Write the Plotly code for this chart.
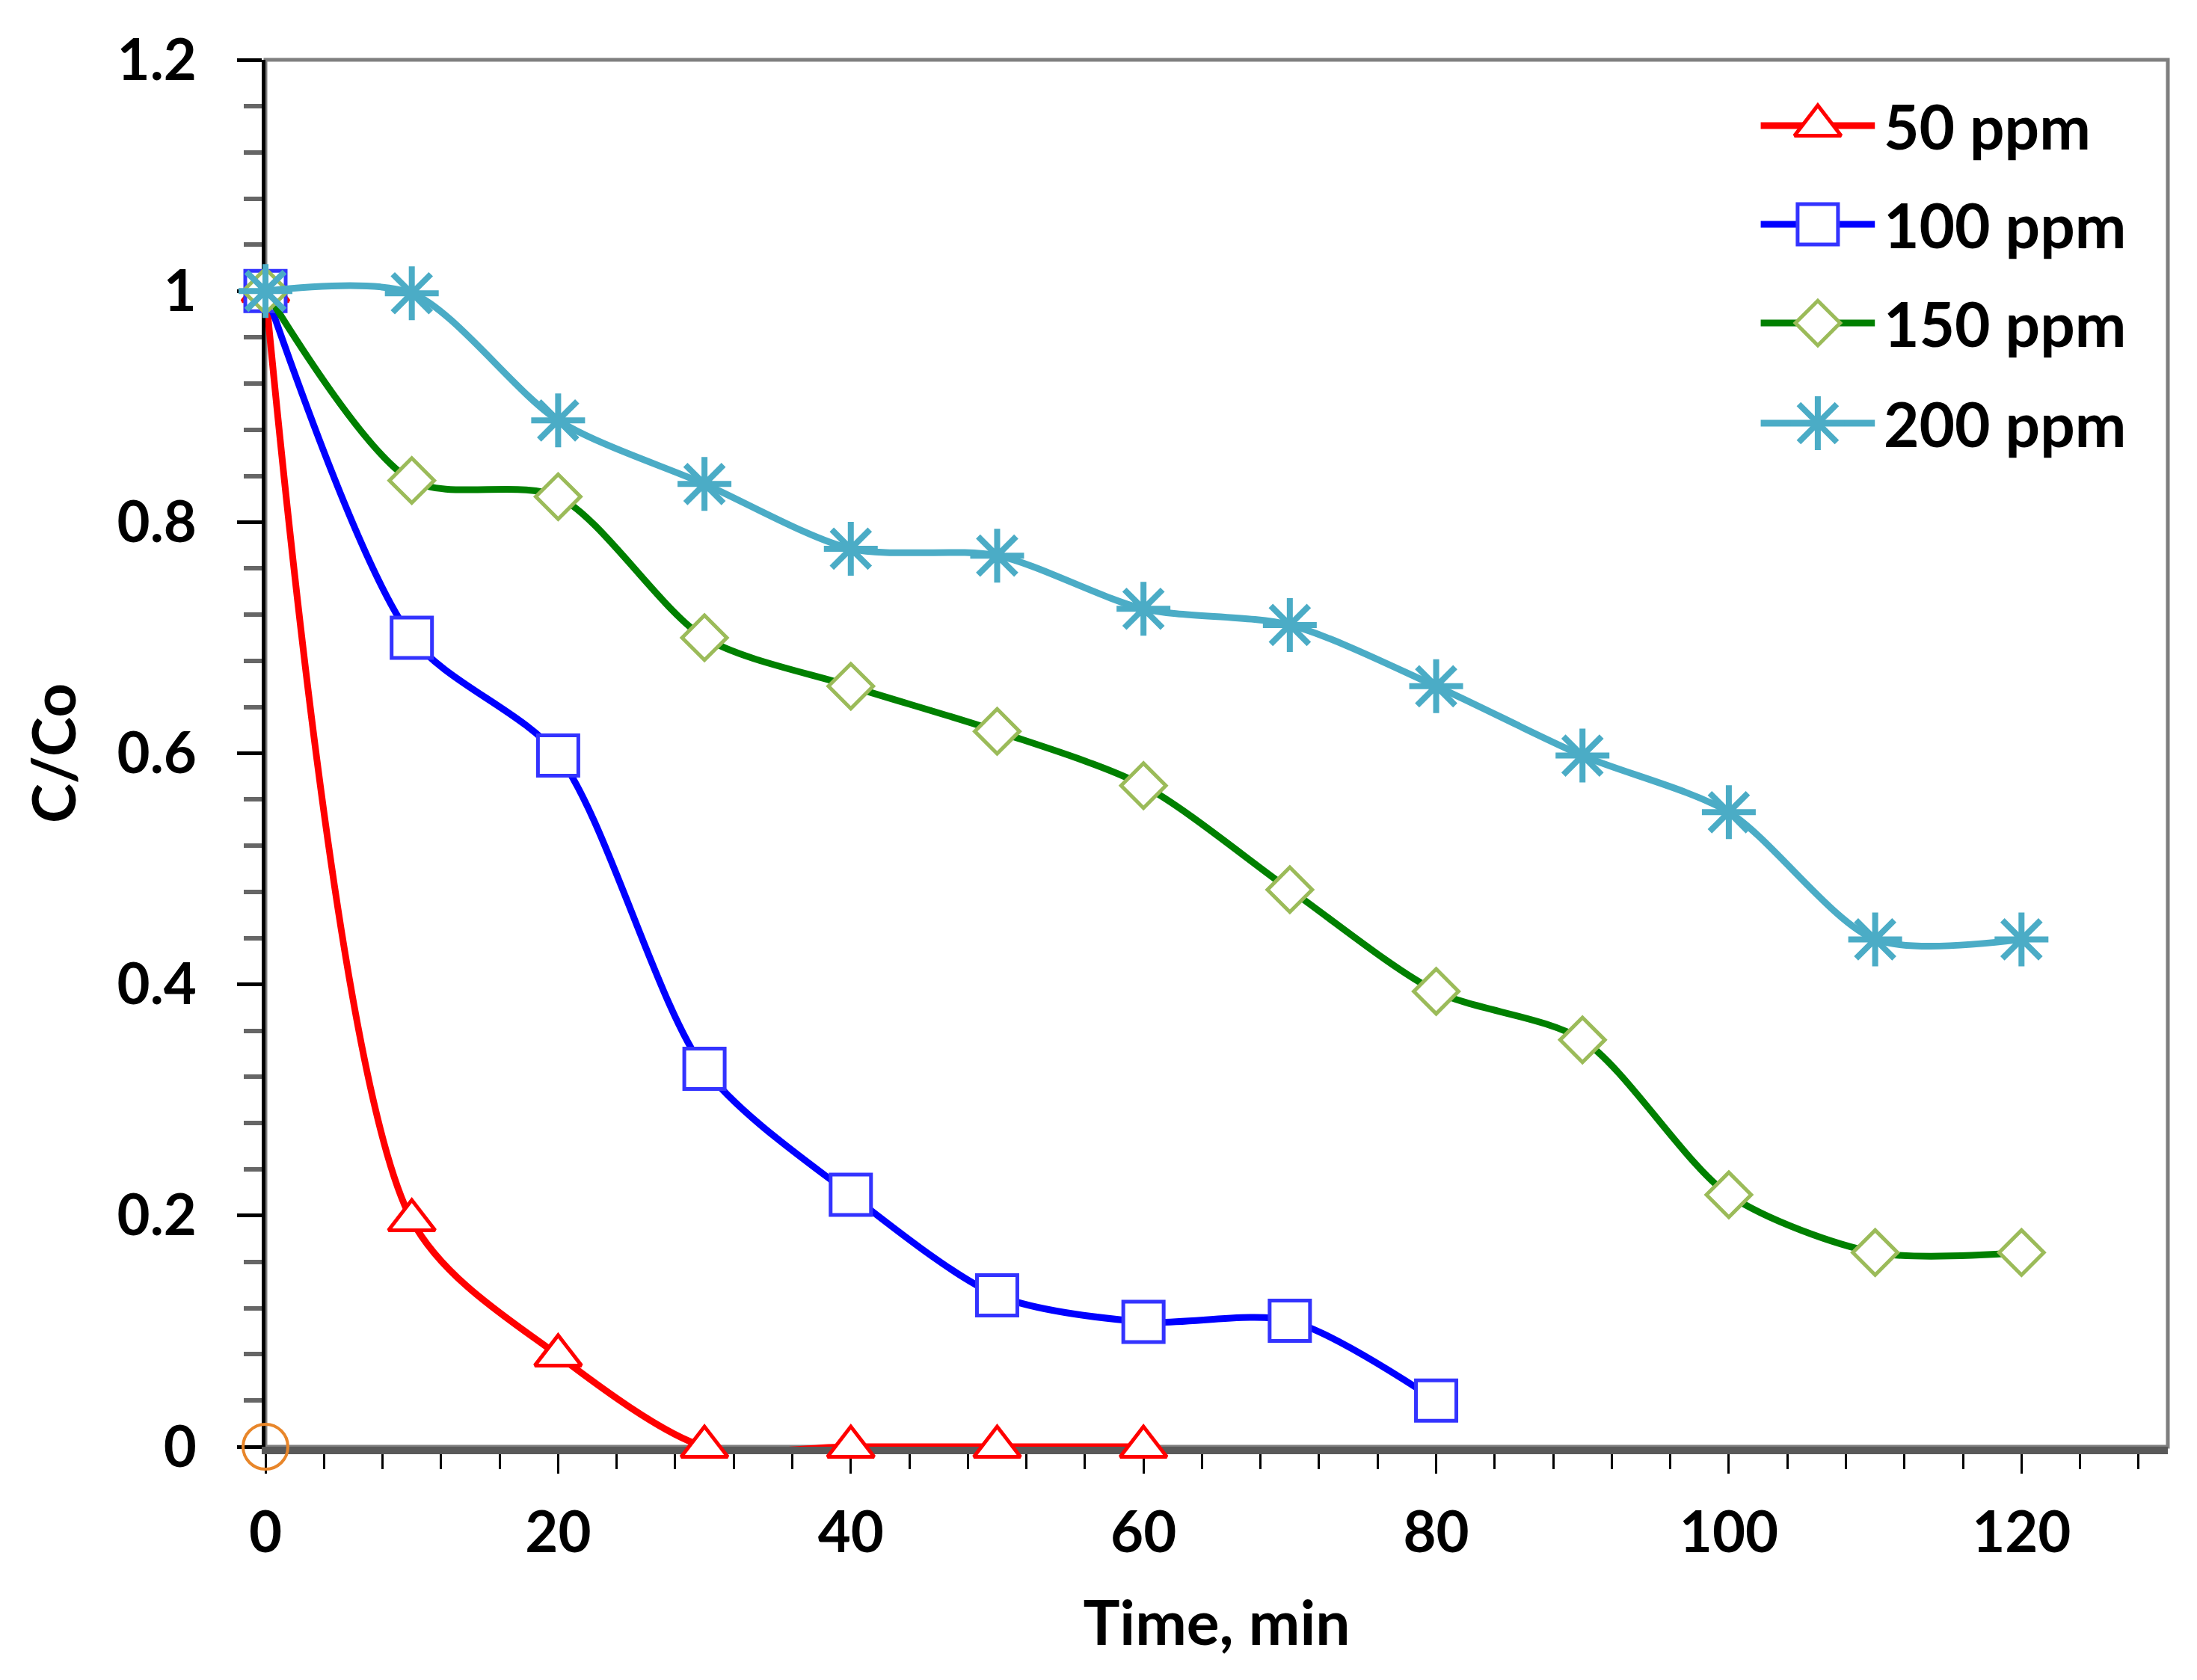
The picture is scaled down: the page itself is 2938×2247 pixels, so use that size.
import plotly.graph_objects as go

time_50 = [0, 10, 20, 30, 40, 50, 60]
c_50 = [1.0, 0.196, 0.079, 0.0, 0.0, 0.0, 0.0]

time_100 = [0, 10, 20, 30, 40, 50, 60, 70, 80]
c_100 = [1.0, 0.70, 0.598, 0.327, 0.218, 0.131, 0.108, 0.109, 0.04]

time_150 = [0, 10, 20, 30, 40, 50, 60, 70, 80, 90, 100, 110, 120]
c_150 = [1.0, 0.836, 0.822, 0.70, 0.658, 0.619, 0.572, 0.482, 0.394, 0.352, 0.218, 0.168, 0.168]

time_200 = [0, 10, 20, 30, 40, 50, 60, 70, 80, 90, 100, 110, 120]
c_200 = [1.0, 0.998, 0.888, 0.833, 0.777, 0.771, 0.725, 0.711, 0.658, 0.598, 0.549, 0.439, 0.439]

labels = ["50 ppm", "100 ppm", "150 ppm", "200 ppm"]

origin_x = [0]
origin_y = [0]

FONT = "Lato"

# look of each series: line colour, marker edge colour, symbol, size
styles = [
    dict(lc="#FF0000", mc="#FF0000", sym="triangle-up", sz=54),
    dict(lc="#0000FF", mc="#3333FF", sym="square", sz=54),
    dict(lc="#008000", mc="#9BBB59", sym="diamond", sz=46),
    dict(lc="#4BACC6", mc="#4BACC6", sym="asterisk-open", sz=60),
]

# hand-made legend (plotly caps legend marker size), in plot-area fractions
LEG_X0, LEG_XM, LEG_X1, LEG_TX = 0.786, 0.816, 0.846, 0.850
LEG_ROWS = [0.9526, 0.8814, 0.8102, 0.738]


def marker_of(st):
    star = st["sym"] == "asterisk-open"
    return dict(symbol=st["sym"], size=st["sz"],
                color=st["mc"] if star else "white",
                line=dict(color=st["mc"], width=8 if star else 5))


fig = go.Figure()

# stray origin marker from the original sheet
fig.add_trace(go.Scatter(
    x=origin_x, y=origin_y, mode="markers", showlegend=False, cliponaxis=False,
    marker=dict(symbol="circle-open", size=60, color="#E8862A", line=dict(width=4))
))

data = [(time_50, c_50), (time_100, c_100), (time_150, c_150), (time_200, c_200)]

for (xs, ys), st, name in zip(data, styles, labels):
    fig.add_trace(go.Scatter(
        x=xs, y=ys, name=name, mode="lines+markers", cliponaxis=False, showlegend=False,
        line=dict(color=st["lc"], width=9, shape="spline", smoothing=0.8),
        marker=marker_of(st),
    ))

# legend glyphs on an overlay axis
for st, name, ry in zip(styles, labels, LEG_ROWS):
    fig.add_trace(go.Scatter(
        x=[LEG_X0, LEG_X1], y=[ry, ry], mode="lines", xaxis="x2", yaxis="y2",
        showlegend=False, hoverinfo="skip", line=dict(color=st["lc"], width=9)))
    fig.add_trace(go.Scatter(
        x=[LEG_XM], y=[ry], mode="markers", xaxis="x2", yaxis="y2",
        showlegend=False, hoverinfo="skip", marker=marker_of(st)))
    fig.add_annotation(x=LEG_TX, y=ry, xref="x2", yref="y2", text=name, showarrow=False,
                       xanchor="left", yanchor="middle",
                       font=dict(size=82, family=FONT, weight="bold", color="black"))

# plot frame (top/right in grey)
fig.add_shape(type="rect", xref="x domain", yref="y domain", x0=0, x1=1, y0=0, y1=1,
              line=dict(color="#7F7F7F", width=5), layer="below")

fig.update_layout(
    width=2938, height=2247,
    margin=dict(l=347, r=47, t=72, b=320),
    paper_bgcolor="white", plot_bgcolor="white",
    font=dict(family=FONT, size=76, color="black", weight="bold"),
    showlegend=False,
    xaxis=dict(
        range=[0, 130], dtick=20, tick0=0, showgrid=False, zeroline=False,
        showline=True, linecolor="#595959", linewidth=10, layer="below traces",
        ticks="outside", ticklen=26, tickwidth=3, tickcolor="black",
        minor=dict(dtick=4, ticks="outside", ticklen=20, tickwidth=3, tickcolor="black"),
        ticklabelstandoff=14,
        tickfont=dict(size=76, family=FONT, weight="bold"),
        title=dict(text="Time, min", font=dict(size=82, family=FONT, weight="bold"), standoff=55),
    ),
    yaxis=dict(
        range=[0, 1.2], dtick=0.2, tick0=0, showgrid=False, zeroline=False,
        showline=True, linecolor="black", linewidth=5, layer="below traces",
        ticks="outside", ticklen=33, tickwidth=5, tickcolor="black",
        minor=dict(dtick=0.04, ticks="outside", ticklen=24, tickwidth=6, tickcolor="#666666"),
        ticklabelstandoff=39,
        tickfont=dict(size=76, family=FONT, weight="bold"),
        title=dict(text="C/Co", font=dict(size=80, family=FONT, weight="bold"), standoff=30),
    ),
    xaxis2=dict(overlaying="x", range=[0, 1], visible=False),
    yaxis2=dict(overlaying="y", range=[0, 1], visible=False),
)

fig.write_html("out.html")
